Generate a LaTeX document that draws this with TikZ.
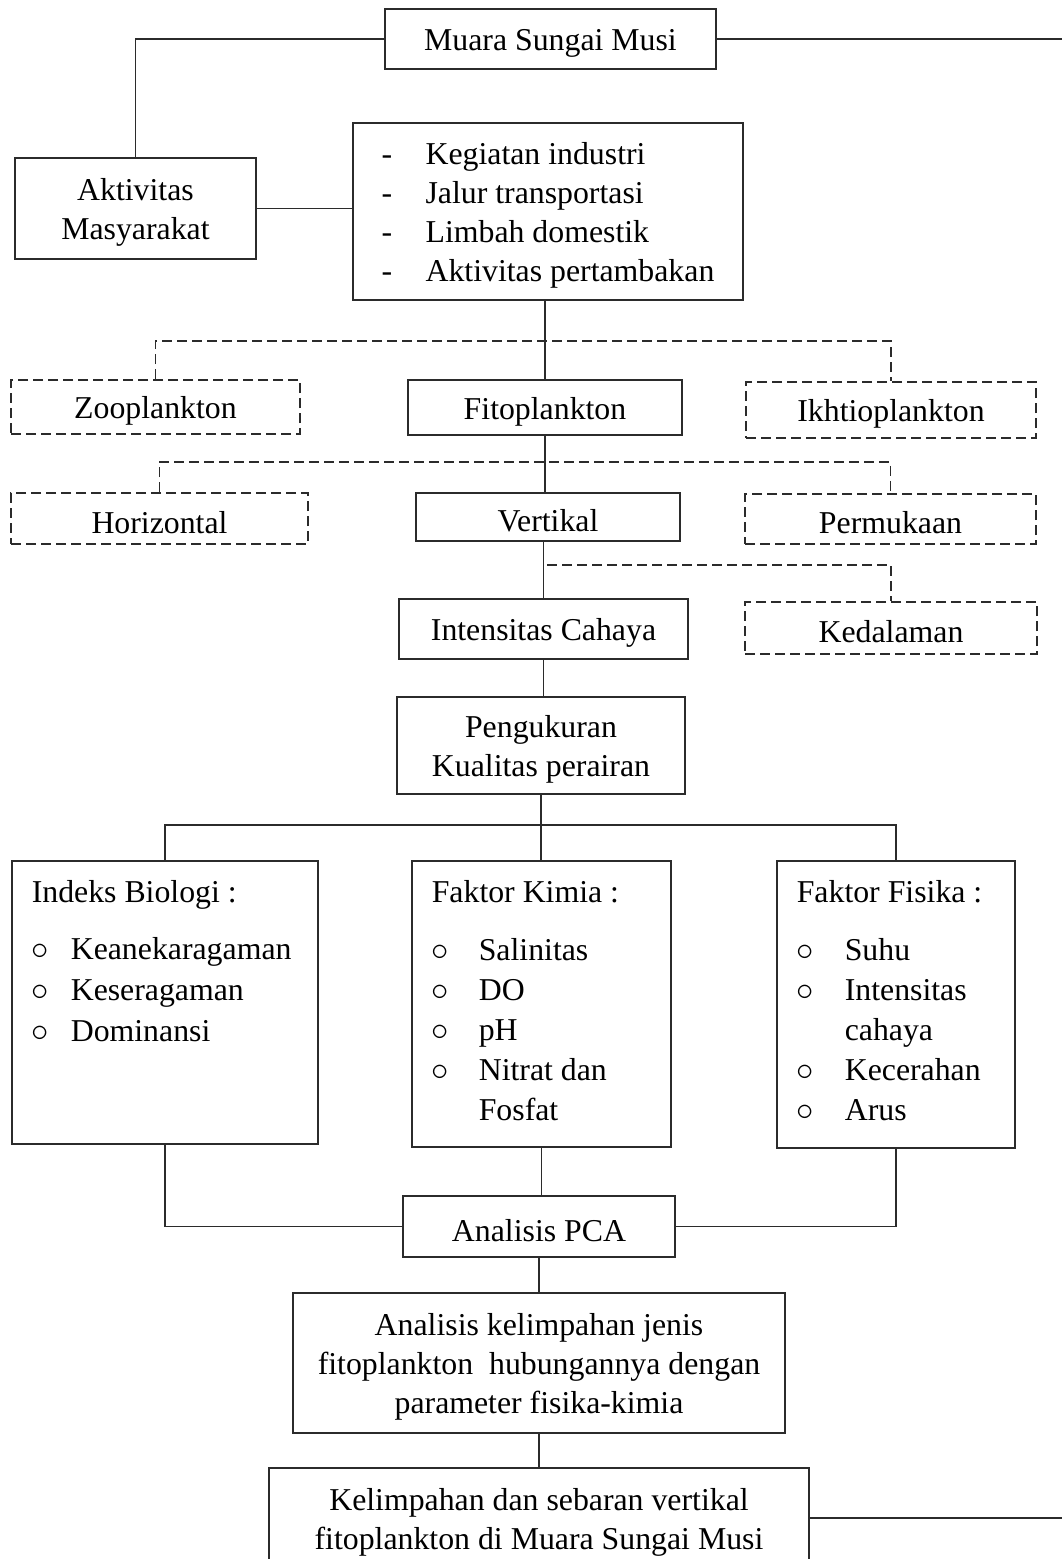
\documentclass[tikz,border=0pt]{standalone}
\usepackage{fontspec}
\setmainfont{Liberation Serif}
\usepackage{xcolor}
\usepackage{tikz}
\usetikzlibrary{calc}
\definecolor{ink}{HTML}{2B2B2B}
\newcommand{\dsh}{\makebox[22pt][l]{-}}
\newcommand{\blt}[1]{\makebox[#1][l]{$\circ$}}
\newcommand{\tstrut}{\rule{0pt}{15pt}}
\tikzset{
  box/.style={draw=ink, line width=0.8pt, inner sep=0pt, align=center, text=black},
  tbox/.style={box, execute at begin node={\tstrut}},
  dbox/.style={tbox, dash pattern=on 5pt off 2.5pt},
  sz/.style 2 args={minimum width=#1, minimum height=#2},
  link/.style={draw=ink, line width=0.8pt},
  dlink/.style={link, dash pattern=on 5pt off 2.5pt},
  every node/.style={font=\fontsize{15.9}{19.5}\selectfont}
}

\begin{document}
\begin{tikzpicture}[x=0.5pt, y=-0.5pt]
  \useasboundingbox (0,0) rectangle (1062,1559);
  \clip (0,0) rectangle (1062,1559);
  \fill[white] (0,0) rectangle (1062,1559);

  % top part
  \node[tbox, sz={165.5pt}{30pt}] (muara) at (550.5,39) {Muara Sungai Musi};
  \node[box, sz={120.5pt}{50.5pt}] (aktiv) at (135.5,208.5) {\tstrut Aktivitas\\Masyarakat};
  \node[box, sz={195pt}{88.5pt}, align=left] (keg) at (548,211.5)
    {\tstrut\dsh Kegiatan industri\\ \dsh Jalur transportasi\\ \dsh Limbah domestik\\ \dsh Aktivitas pertambakan};
  \coordinate (rtop) at (1062,39);

  % plankton
  \node[dbox, sz={144.5pt}{27pt}] (zoo) at (155.5,407) {Zooplankton};
  \node[tbox, sz={137pt}{27.5pt}] (fito) at (545,407.5) {Fitoplankton};
  \node[dbox, sz={145pt}{28pt}] (ikh) at (891,410) {Ikhtioplankton};
  \coordinate (d1) at (545,341);

  % sebaran
  \node[dbox, sz={148.5pt}{25.5pt}] (horiz) at (159.5,518.5) {Horizontal};
  \node[tbox, sz={132pt}{24pt}] (vert) at (548,517) {Vertikal};
  \node[dbox, sz={145.5pt}{25pt}] (perm) at (890.5,519) {Permukaan};
  \coordinate (d2) at (545,462);

  \node[tbox, sz={144.5pt}{30pt}] (intens) at (543.5,629) {Intensitas Cahaya};
  \node[dbox, sz={146pt}{26pt}] (kedal) at (891,628) {Kedalaman};
  \coordinate (d3) at (547,565);

  \node[box, sz={144pt}{48.5pt}] (peng) at (541,745.5) {\tstrut Pengukuran\\Kualitas perairan};
  \coordinate (hub) at (541,825);

  % parameter boxes
  \node[box, anchor=north west, inner sep=10pt] (bio) at (11,860)
    {\begin{minipage}[c][121.5pt][t]{133pt}\fontsize{15.9}{20.5}\selectfont\raggedright
      Indeks Biologi :\\[8pt]
      \blt{19.5pt}Keanekaragaman\\
      \blt{19.5pt}Keseragaman\\
      \blt{19.5pt}Dominansi
    \end{minipage}};
  \node[box, anchor=north west, inner sep=10pt] (kim) at (411,860)
    {\begin{minipage}[c][123pt][t]{109.5pt}\fontsize{15.9}{20}\selectfont\raggedright
      Faktor Kimia :\\[9pt]
      \blt{23.5pt}Salinitas\\
      \blt{23.5pt}DO\\
      \blt{23.5pt}pH\\
      \blt{23.5pt}Nitrat dan\\
      \hspace*{23.5pt}Fosfat
    \end{minipage}};
  \node[box, anchor=north west, inner sep=10pt] (fis) at (776,860)
    {\begin{minipage}[c][123.5pt][t]{99pt}\fontsize{15.9}{20}\selectfont\raggedright
      Faktor Fisika :\\[9pt]
      \blt{24pt}Suhu\\
      \blt{24pt}Intensitas\\
      \hspace*{24pt}cahaya\\
      \blt{24pt}Kecerahan\\
      \blt{24pt}Arus
    \end{minipage}};

  % analisis
  \node[tbox, sz={136pt}{30.5pt}] (pca) at (539,1226.5) {Analisis PCA};
  \node[box, sz={246pt}{70pt}] (anal) at (539,1363)
    {\tstrut Analisis kelimpahan jenis\\fitoplankton\ \ hubungannya dengan\\parameter fisika-kimia};
  \node[box, sz={270pt}{50pt}] (fin) at (539,1518)
    {\tstrut Kelimpahan dan sebaran vertikal\\fitoplankton di Muara Sungai Musi};
  \coordinate (rbot) at (1062,1518);

  % connectors
  \draw[link] (muara.west) -| (aktiv.north);
  \draw[link] (muara.east) -- (rtop);
  \draw[link] (aktiv.east) -- (aktiv.east -| keg.west);
  \draw[link] (fito.north |- keg.south) -- (fito.north);
  \draw[dlink] (zoo.north) |- (d1) -| (ikh.north);
  \draw[link] (fito.south) -- (fito.south |- vert.north);
  \draw[dlink] (horiz.north) |- (d2) -| (perm.north);
  \draw[link] (intens.north |- vert.south) -- (intens.north);
  \draw[dlink] (d3) -| (kedal.north);
  \draw[link] (intens.south) -- (intens.south |- peng.north);
  \draw[link] (peng.south) -- (hub);
  \draw[link] (bio.north) |- (hub) -| (fis.north);
  \draw[link] (hub) -- (hub |- kim.north);
  \draw[link] (bio.south) |- (pca.west);
  \draw[link] (fis.south) |- (pca.east);
  \draw[link] (kim.south) -- (kim.south |- pca.north);
  \draw[link] (pca.south) -- (anal.north);
  \draw[link] (anal.south) -- (fin.north);
  \draw[link] (fin.east) -- (rbot);
\end{tikzpicture}
\end{document}
